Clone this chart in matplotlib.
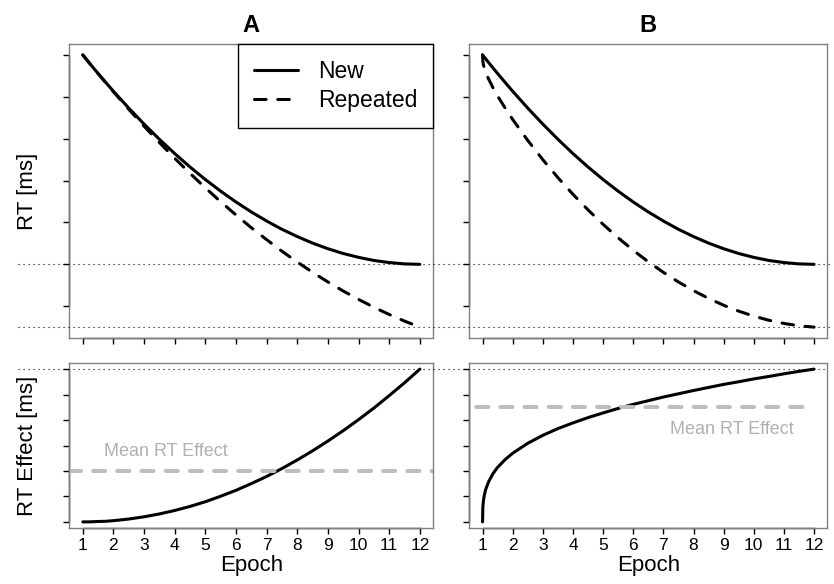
import matplotlib
matplotlib.use('Agg')
import matplotlib.pyplot as plt
from matplotlib.lines import Line2D
from matplotlib.transforms import blended_transform_factory as blend

plt.rcParams['font.family'] = ['Liberation Sans', 'DejaVu Sans']

# values (RT in ms, epochs 1..12)
epoch = [1, 1.01, 1.03, 1.06, 1.1, 1.2, 1.35, 1.5, 1.75, 2, 2.5, 3, 3.5, 4, 4.5,
         5, 5.5, 6, 6.5, 7, 7.5, 8, 8.5, 9, 9.5, 10, 10.5, 11, 11.5, 12]
rt_new = [700, 699.5, 698.6, 697.3, 695.5, 691.0, 684.3, 677.8, 667.1, 656.6,
          636.5, 617.4, 599.3, 582.2, 566.2, 551.2, 537.3, 524.4, 512.5, 501.7,
          491.8, 483.1, 475.3, 468.6, 462.9, 458.3, 454.6, 452.1, 450.5, 450]
effect_a = [0, 0, 0, 0, 0, 0, 0.1, 0.2, 0.3, 0.6,
            1.4, 2.5, 3.9, 5.6, 7.6, 9.9, 12.6, 15.5, 18.8, 22.3,
            26.2, 30.4, 34.9, 39.7, 44.8, 50.2, 55.9, 62.0, 68.3, 75]
effect_b = [0, 7.3, 10.5, 13.2, 15.7, 19.7, 23.8, 26.8, 30.6, 33.7,
            38.6, 42.5, 45.8, 48.6, 51.2, 53.5, 55.7, 57.7, 59.5, 61.3,
            62.9, 64.5, 66.0, 67.5, 68.8, 70.2, 71.4, 72.7, 73.9, 75]
mean_a = 25
mean_b = 56.25

rt_ticks = [400, 450, 500, 550, 600, 650, 700]
eff_ticks = [0, 12.5, 25, 37.5, 50, 62.5, 75]
epoch_ticks = list(range(1, 13))

rep_a = [n - e for n, e in zip(rt_new, effect_a)]
rep_b = [n - e for n, e in zip(rt_new, effect_b)]

grey = '#BEBEBE'
W, H = 834, 584

fig = plt.figure(figsize=(8.34, 5.84), dpi=100)
axA = fig.add_axes([0.0831, 0.4212, 0.4365, 0.5034])
axB = fig.add_axes([0.5627, 0.4212, 0.4293, 0.5034])
axC = fig.add_axes([0.0831, 0.0959, 0.4365, 0.2825])
axD = fig.add_axes([0.5627, 0.0959, 0.4293, 0.2825])


def style(ax, yticks, ylim, xlabels):
    ax.set_xlim(0.56, 12.44)
    ax.set_ylim(*ylim)
    ax.set_xticks(epoch_ticks)
    ax.set_yticks(yticks)
    ax.tick_params(direction='out', length=4, width=1, color='black',
                   labelleft=False, labelbottom=xlabels, labelsize=12.5, pad=3)
    for sp in ax.spines.values():
        sp.set_color('#808080')
        sp.set_linewidth(1)
    # axis lines between first and last tick, like base R
    ax.plot([0, 0], [yticks[0], yticks[-1]], color='black', lw=1,
            transform=blend(ax.transAxes, ax.transData), clip_on=False)
    ax.plot([epoch_ticks[0], epoch_ticks[-1]], [0, 0], color='black', lw=1,
            transform=blend(ax.transData, ax.transAxes), clip_on=False)


rt_lim = (362, 713)
eff_lim = (-3, 78)

# top row: RT curves
for ax, rep, title in [(axA, rep_a, 'A'), (axB, rep_b, 'B')]:
    style(ax, rt_ticks, rt_lim, False)
    ax.plot(epoch, rt_new, color='black', lw=2.2, solid_capstyle='round', label='New')
    ax.plot(epoch, rep, color='black', lw=2.2, dashes=(3.8, 3.8),
            dash_capstyle='round', label='Repeated')
    ax.set_title(title, fontsize=17, fontweight='bold', pad=8.5)

leg = axA.legend(loc='upper right', borderaxespad=0, fancybox=False,
                 edgecolor='black', framealpha=1, fontsize=16.5,
                 handlelength=1.95, handletextpad=0.85, borderpad=0.7,
                 labelspacing=0.25)
leg.get_frame().set_linewidth(1.0)

# bottom row: RT effect
style(axC, eff_ticks, eff_lim, True)
style(axD, eff_ticks, eff_lim, True)
axC.plot(epoch, effect_a, color='black', lw=2.2, solid_capstyle='round')
axD.plot(epoch, effect_b, color='black', lw=2.2, solid_capstyle='round')

axC.axhline(mean_a, color=grey, lw=2.9, dashes=(3, 3), dash_capstyle='round')
axD.hlines(mean_b, 0, 12, color=grey, lw=2.9, linestyles=(0, (3, 3)),
           capstyle='round')
axC.text(1.7, 34.5, 'Mean RT Effect', color='#B0B0B0', fontsize=13,
         ha='left', va='center')
axD.text(9.26, 45.5, 'Mean RT Effect', color='#B0B0B0', fontsize=13,
         ha='center', va='center')

for ax in (axC, axD):
    ax.set_xlabel('Epoch', fontsize=16, labelpad=2)

fig.text(28 / W, 1 - 191 / H, 'RT [ms]', rotation=90, fontsize=16,
         ha='center', va='center')
fig.text(28 / W, 1 - 445.5 / H, 'RT Effect [ms]', rotation=90, fontsize=16,
         ha='center', va='center')

# dotted reference lines running across both panels
dot = dict(color='black', lw=0.8, linestyle=(0, (1, 3.5)))
for y in (rt_new[-1], rep_a[-1]):
    fig.add_artist(Line2D([18 / W, 830 / W], [y, y],
                          transform=blend(fig.transFigure, axA.transData), **dot))
fig.add_artist(Line2D([18 / W, 828 / W], [effect_a[-1], effect_a[-1]],
                      transform=blend(fig.transFigure, axC.transData), **dot))

fig.savefig('out.png', dpi=100)
